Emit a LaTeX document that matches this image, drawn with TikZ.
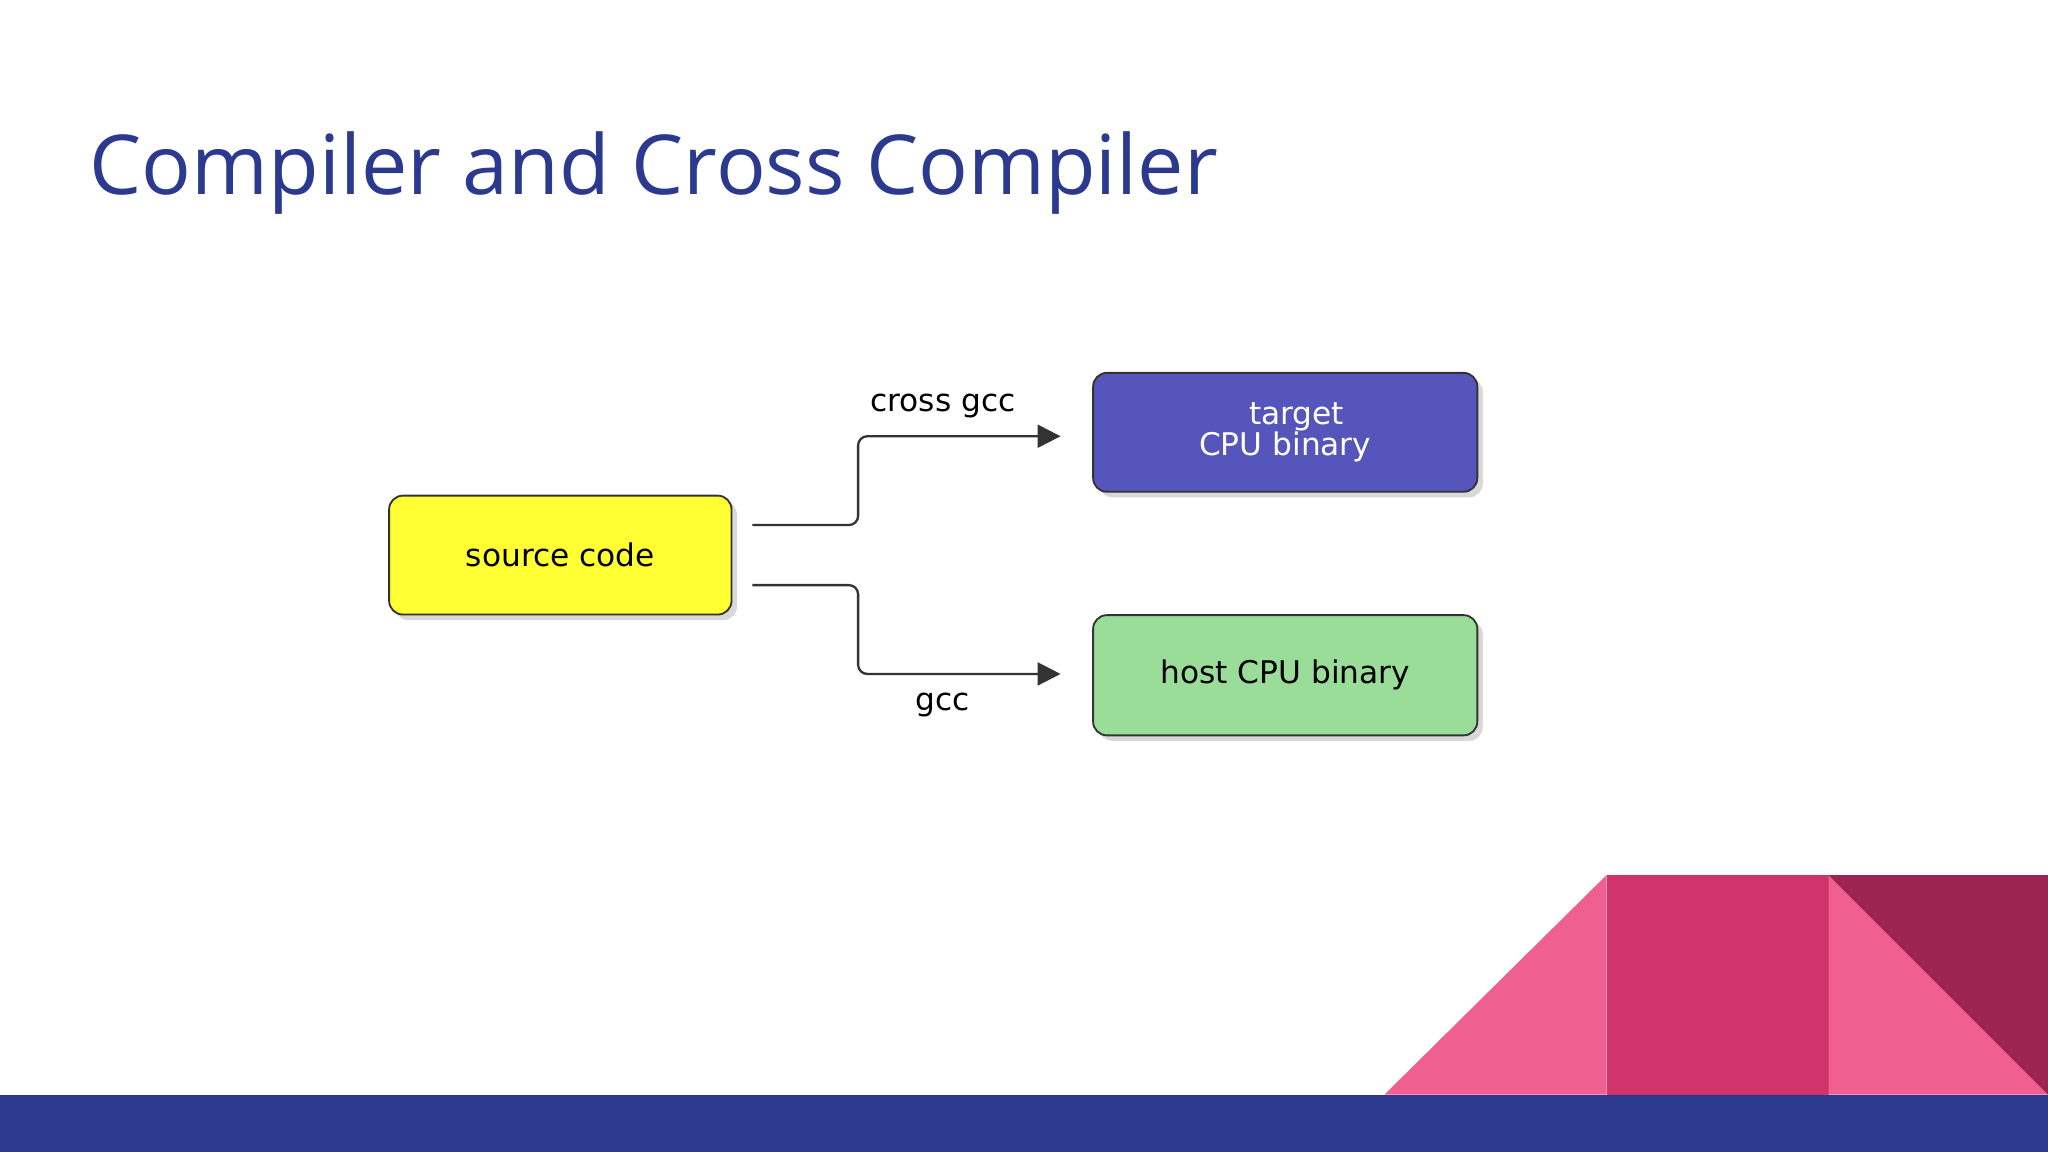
\documentclass[tikz,border=0pt]{standalone}
\usepackage{fontspec}
\setmainfont{Open Sans}
\newfontfamily\boxfont{DejaVu Sans}
\usetikzlibrary{arrows.meta,positioning,shadows}
\definecolor{titleblue}{HTML}{2B3A8F}
\definecolor{lightpink}{HTML}{EF5F8F}
\definecolor{midpink}{HTML}{D1346A}
\definecolor{darkpink}{HTML}{9B2450}
\definecolor{srcyellow}{HTML}{FFFF33}
\definecolor{tgtblue}{HTML}{5555BB}
\definecolor{hostgreen}{HTML}{99DD99}
\tikzset{
  box/.style={draw=black!80, rounded corners=3pt, minimum width=2.62cm, minimum height=0.91cm,
    font=\boxfont\fontsize{6.8}{6}\selectfont, drop shadow={opacity=0.3,shadow xshift=1.2pt,shadow yshift=-1.2pt}},
  flow/.style={draw=black!80, line width=0.5pt, -{Triangle[length=5pt,width=5pt]}},
  lbl/.style={font=\boxfont\fontsize{6.8}{8}\selectfont}
}
\begin{document}
\begin{tikzpicture}[x=0.01cm,y=-0.01cm]
\useasboundingbox (0,0) rectangle (1568,882);
\fill[white] (0,0) rectangle (1568,882);
% decoration
\fill[titleblue] (0,838) rectangle (1568,882);
\fill[lightpink] (1060,838) -- (1230,670) -- (1230,838) -- cycle;
\fill[midpink] (1230,670) rectangle (1400,838);
\fill[lightpink] (1400,670) -- (1568,838) -- (1400,838) -- cycle;
\fill[darkpink] (1400,670) -- (1568,670) -- (1568,838) -- cycle;
\node[anchor=base west, text=titleblue, font=\fontsize{18}{20}\selectfont, inner sep=0] (title) at (68,149) {Compiler and Cross Compiler};

% boxes
\node[box, fill=srcyellow] (src) at (429,425) {source code};
\node[box, fill=tgtblue, text=white, minimum width=2.94cm, align=center, font=\boxfont\fontsize{6.8}{6.6}\selectfont] (tgt) at (984,331) {\hspace*{5pt}target\\CPU binary};
\node[box, fill=hostgreen, minimum width=2.94cm, minimum height=0.92cm] (host) at (984,517) {host CPU binary};

\coordinate (s1) at (576,402);
\coordinate (s2) at (576,448);
\coordinate (t1) at (812,334);
\coordinate (t2) at (812,516);
\draw[flow, rounded corners=2pt] (s1) -- (657,402) -- (657,334) -- (t1);
\draw[flow, rounded corners=2pt] (s2) -- (657,448) -- (657,516) -- (t2);
\node[lbl] (cross) at (722,311) {cross gcc};
\node[lbl] (gcc) at (722,540) {gcc};
\end{tikzpicture}
\end{document}
